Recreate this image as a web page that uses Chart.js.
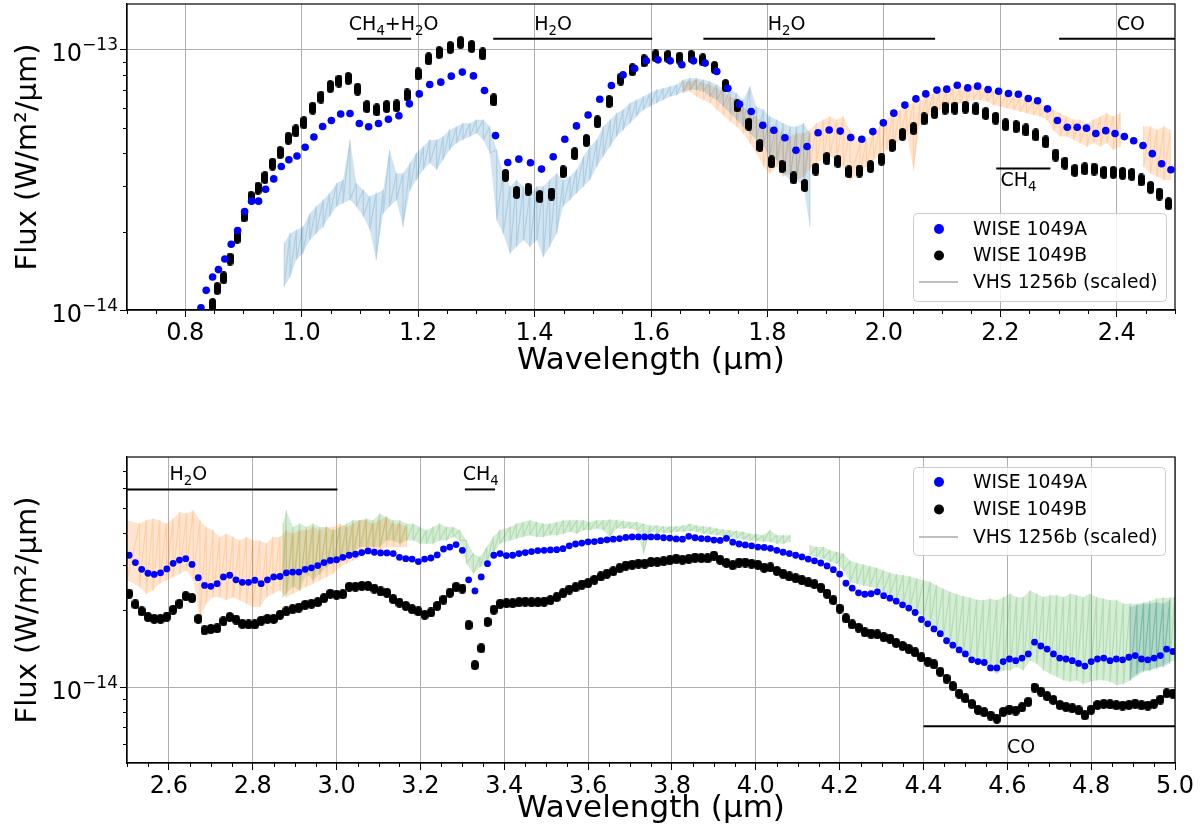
<!DOCTYPE html>
<html>
<head>
<meta charset="utf-8">
<script src="https://cdn.jsdelivr.net/npm/chart.js@4.4.0/dist/chart.umd.min.js"></script>
<style>
  html, body { margin: 0; padding: 0; background: #fff; }
  #wrap { position: relative; width: 1202px; height: 834px; }
  canvas { position: absolute; left: 0; }
  #topChart { top: 0; }
  #bottomChart { top: 400px; }
</style>
</head>
<body>
<div id="wrap">
  <canvas id="topChart" width="1202" height="400" style="width:1202px;height:400px"></canvas>
  <canvas id="bottomChart" width="1202" height="434" style="width:1202px;height:434px"></canvas>
</div>
<script>
// all fluxes below are in units of 1e-14 W/m2/um
const U = 1e-14;

// ---- top panel (0.7 - 2.5 um) ----
const wlA_nir = [0.827,0.836,0.847,0.857,0.868,0.879,0.890,0.902,0.914,0.926,
  0.938,0.952,0.965,0.978,0.992,1.006,1.021,1.036,1.051,1.067,
  1.083,1.099,1.115,1.132,1.149,1.167,1.185,1.202,1.220,1.239,
  1.257,1.276,1.295,1.314,1.333,
  1.354,1.373,1.393,1.412,1.432,1.452,1.472,1.492,1.512,1.532,
  1.552,1.572,1.592,1.612,1.633,1.653,1.673,1.693,1.713,1.732,
  1.752,1.772,1.792,1.811,1.830,1.849,1.868,1.887,1.906,1.925,
  1.943,
  1.962,1.981,1.999,2.017,2.036,2.055,2.072,2.091,2.108,2.126,
  2.144,2.161,2.179,2.197,2.214,2.231,2.248,2.264,2.281,2.298,
  2.315,2.332,2.348,2.364,2.381,2.397,2.413,2.429,2.445,2.461,
  2.477,2.493];
const fluxA_nir = [1.02,1.19,1.34,1.43,1.57,1.79,2.02,2.39,2.62,2.62,
  2.91,3.19,3.56,3.78,3.91,4.22,4.62,5.07,5.35,5.67,
  5.69,5.21,5.06,5.21,5.41,5.58,6.20,6.77,7.36,7.51,
  7.92,8.21,7.94,6.98,4.68,
  3.69,3.80,3.68,3.48,3.88,4.53,5.10,5.62,6.46,7.29,
  8.01,8.48,9.07,9.15,9.07,8.76,9.07,8.89,8.25,7.12,
  6.18,5.79,5.13,4.91,4.59,4.11,4.25,4.80,4.92,4.87,
  4.60,
  4.53,4.85,5.24,5.71,6.13,6.48,6.77,7.00,7.06,7.31,
  7.14,7.25,7.04,6.93,6.79,6.75,6.50,6.37,5.93,5.35,
  5.04,5.04,5.00,4.77,4.89,4.77,4.64,4.47,4.29,3.99,
  3.65,3.46];

const wlB_nir = [0.847,0.855,0.866,0.877,0.889,0.901,0.913,0.925,0.937,0.950,
  0.963,0.977,0.990,1.004,1.019,1.033,1.049,1.064,1.080,1.096,
  1.112,1.129,1.146,1.163,1.181,1.200,1.218,1.236,1.255,1.273,
  1.292,1.311,1.330,
  1.350,1.369,1.389,1.409,1.429,1.449,1.469,1.489,1.508,1.528,
  1.548,1.568,1.588,1.608,1.629,1.649,1.669,1.689,1.709,1.728,
  1.748,1.768,1.787,1.807,1.825,1.845,1.864,1.883,1.902,1.921,
  1.940,
  1.958,1.977,1.996,2.014,2.032,2.051,2.069,2.087,2.105,2.122,
  2.140,2.158,2.175,2.192,2.209,2.227,2.244,2.261,2.278,2.295,
  2.311,2.328,2.345,2.361,2.378,2.394,2.410,2.426,2.442,2.458,
  2.473,2.489];
const fluxB_nir = [1.05,1.21,1.33,1.57,1.90,2.30,2.71,2.94,3.23,3.64,
  4.03,4.57,4.88,5.25,5.97,6.58,7.23,7.58,7.76,7.06,
  6.05,5.88,6.05,6.09,6.71,8.08,9.23,9.76,10.21,10.67,
  10.30,9.65,6.42,
  3.29,2.83,2.91,2.73,2.79,3.40,3.99,4.48,5.29,6.33,
  7.72,8.38,9.07,9.48,9.43,9.29,9.43,9.15,8.55,7.29,
  6.09,5.18,4.29,3.71,3.56,3.22,3.01,3.48,3.82,3.73,
  3.40,
  3.42,3.56,3.80,4.29,4.73,4.98,5.43,5.74,5.97,5.97,
  6.02,5.93,5.69,5.46,5.15,5.07,4.92,4.71,4.43,3.94,
  3.67,3.44,3.49,3.48,3.38,3.38,3.35,3.32,3.16,2.96,
  2.79,2.56];

// VHS 1256b spectrum, J+H part (upper / lower edge of the noise)
const vhsJWave = [0.970,0.980,0.991,1.002,1.014,1.025,1.037,1.048,1.060,1.071,
  1.083,1.094,1.106,1.117,1.128,1.140,1.151,1.163,1.174,1.186,
  1.197,1.209,1.220,1.232,1.243,1.254,1.266,1.277,1.289,1.300,
  1.312,1.323,1.335,
  1.346,1.358,1.369,1.381,1.392,1.404,1.415,
  1.426,1.438,1.449,1.461,1.472,1.484,1.495,1.507,1.518,1.530,
  1.541,1.552,1.564,1.575,1.587,1.598,1.610,1.621,1.633,1.644,
  1.655,1.667,1.678,1.690,1.701,1.713,1.724,1.736,1.747,1.758,
  1.770,1.781,1.793,1.804,1.816,1.827,1.839,1.850,1.862,1.873];
const vhsJHigh = [1.81,1.97,2.03,2.09,2.35,2.50,2.65,2.81,3.07,3.16,
  4.51,3.07,2.89,2.73,2.81,2.89,4.12,3.35,3.35,3.67,
  4.01,4.25,4.51,4.51,4.64,4.92,5.07,5.22,5.22,5.38,
  5.38,5.07,4.12,
  3.35,2.98,3.16,2.98,2.81,2.98,2.98,
  3.16,3.35,3.16,3.26,3.46,3.89,4.25,4.51,5.07,5.38,
  5.71,5.88,6.24,6.42,6.61,6.81,7.02,7.12,7.23,7.34,
  7.67,7.78,7.78,7.67,7.55,7.34,7.12,7.02,6.81,6.42,
  7.23,6.05,5.88,5.54,5.38,5.22,5.07,5.07,5.22,4.78];
const vhsJLow = [1.23,1.34,1.56,1.65,1.86,1.97,2.09,2.29,2.50,2.57,
  2.65,2.50,2.29,2.03,1.56,2.35,2.50,2.65,2.09,2.89,
  3.16,3.46,3.67,3.46,3.78,4.12,4.38,4.51,4.64,4.78,
  4.51,4.01,2.22,
  1.97,1.65,1.75,1.86,1.75,1.86,1.60,
  1.75,1.97,2.50,2.65,2.81,2.98,3.16,3.56,3.89,4.25,
  4.64,4.92,5.22,5.54,5.88,6.05,6.24,6.42,6.61,6.71,
  6.91,7.02,7.02,6.91,6.61,6.42,6.05,5.71,5.38,5.07,
  4.78,4.51,4.25,3.89,3.78,3.35,3.16,3.16,2.98,2.09];

// VHS 1256b spectrum, K part
const vhsKWave = [1.655,1.667,1.678,1.690,1.701,1.713,1.724,1.736,1.747,1.758,
  1.770,1.781,1.793,1.804,1.816,1.827,1.839,1.850,1.862,1.873,
  1.884,1.896,1.907,1.919,1.930,1.942,1.959,1.970,1.982,1.993,
  2.005,2.016,2.028,2.039,2.051,2.062,2.074,2.085,2.096,2.108,
  2.119,2.131,2.142,2.154,2.165,2.177,2.188,2.200,2.211,2.223,
  2.234,2.245,2.257,2.268,2.280,2.291,2.303,2.314,2.326,2.337,
  2.349,2.360,2.372,2.383,2.394,2.406,2.426,2.446,2.458,2.469,
  2.481,2.492];
const vhsKHigh = [7.55,7.55,7.67,7.44,7.34,7.12,6.91,6.61,6.42,6.05,
  5.71,5.54,5.22,5.07,4.92,4.78,4.64,4.78,4.78,4.92,
  5.22,5.38,5.54,5.38,5.54,4.90,4.38,4.51,4.78,5.07,
  5.38,5.71,5.88,6.05,6.24,6.42,6.61,6.81,6.91,7.02,
  7.12,7.23,7.23,7.34,7.18,7.06,6.91,6.81,6.71,6.61,
  6.52,6.42,6.33,6.24,6.05,5.88,5.71,5.54,5.38,5.38,
  5.22,5.38,5.54,5.71,5.54,5.71,null,5.07,5.07,4.92,
  5.07,4.92];
const vhsKLow = [6.81,6.91,6.61,6.42,6.24,5.88,5.62,5.30,5.07,4.78,
  4.38,4.01,3.56,3.35,3.56,3.26,3.35,3.16,3.26,3.46,
  3.67,3.78,3.89,3.78,3.56,3.16,3.35,3.56,3.78,3.89,
  4.12,4.25,4.51,4.78,3.46,5.22,5.54,5.71,5.88,6.05,
  6.14,6.24,6.33,6.42,6.42,6.33,6.14,6.05,5.97,5.88,
  5.79,5.71,5.62,5.54,5.38,4.92,4.64,4.64,4.51,4.38,
  4.25,4.38,4.25,4.38,4.12,4.25,null,3.56,3.35,3.26,
  3.16,3.16];

// absorption band markers: [from, to, level]
const bandsTop = [[1.095,1.188,11.02],[1.329,1.602,11.02],[1.690,2.088,11.02],[2.301,2.5,11.02],[2.193,2.286,3.50]];
// labels: [text, wavelength, level, pixel offset of baseline]
const labelsTop = [['CH₄+H₂O',1.158,11.02,-9],['H₂O',1.432,11.02,-9],['H₂O',1.833,11.02,-9],['CO',2.424,11.02,-9],['CH₄',2.231,3.50,18]];

// ---- bottom panel (2.5 - 5.0 um) ----
const wlMir = [2.505,2.52,2.535,2.55,2.565,2.58,2.595,2.61,2.625,2.64,
  2.655,2.67,2.685,2.7,2.715,2.73,2.745,2.76,2.775,2.79,
  2.805,2.82,2.835,2.85,2.865,2.88,2.895,2.91,2.925,2.94,
  2.955,2.97,2.985,3.0,3.015,3.03,3.045,3.06,3.075,3.09,
  3.105,3.12,3.135,3.15,3.165,3.18,3.195,3.21,3.225,3.24,
  3.255,3.27,3.285,3.3,3.315,3.33,3.345,3.36,3.375,3.39,
  3.405,3.42,3.435,3.45,3.465,3.48,3.495,3.51,3.525,3.54,
  3.555,3.57,3.585,3.6,3.615,3.63,3.645,3.66,3.675,3.69,
  3.705,3.72,3.735,3.75,3.765,3.78,3.795,3.81,3.825,3.84,
  3.855,3.87,3.885,3.9,3.915,3.93,3.945,3.96,3.975,3.99,
  4.005,4.02,4.035,4.05,4.065,4.08,4.095,4.11,4.125,4.14,
  4.155,4.17,4.185,4.2,4.215,4.23,4.245,4.26,4.275,4.29,
  4.305,4.32,4.335,4.35,4.365,4.38,4.395,4.41,4.425,4.44,
  4.455,4.47,4.485,4.5,4.515,4.53,4.545,4.56,4.575,4.59,
  4.605,4.62,4.635,4.65,4.665,4.68,4.695,4.71,4.725,4.74,
  4.755,4.77,4.785,4.8,4.815,4.83,4.845,4.86,4.875,4.89,
  4.905,4.92,4.935,4.95,4.965,4.98,4.995];
const fluxA_mir = [3.28,3.07,2.89,2.79,2.76,2.80,2.90,3.05,3.14,3.18,
  3.02,2.68,2.50,2.48,2.54,2.70,2.74,2.63,2.57,2.57,
  2.62,2.54,2.63,2.70,2.71,2.80,2.82,2.82,2.89,2.93,
  2.99,3.07,3.13,3.15,3.22,3.28,3.31,3.36,3.41,3.37,
  3.35,3.35,3.33,3.22,3.18,3.17,3.10,3.17,3.20,3.29,
  3.47,3.53,3.61,3.43,2.63,2.38,2.70,3.04,3.28,3.33,
  3.27,3.28,3.33,3.36,3.39,3.42,3.43,3.44,3.45,3.48,
  3.57,3.63,3.66,3.70,3.71,3.74,3.77,3.79,3.81,3.85,
  3.87,3.87,3.87,3.87,3.87,3.84,3.83,3.80,3.79,3.89,
  3.84,3.81,3.80,3.76,3.75,3.82,3.69,3.63,3.60,3.57,
  3.53,3.52,3.49,3.43,3.37,3.33,3.28,3.23,3.17,3.12,
  3.06,2.98,2.88,2.77,2.55,2.44,2.34,2.31,2.32,2.36,
  2.28,2.23,2.17,2.10,2.04,1.96,1.84,1.77,1.69,1.62,
  1.52,1.46,1.40,1.35,1.28,1.26,1.25,1.19,1.19,1.26,
  1.29,1.27,1.30,1.35,1.50,1.45,1.41,1.35,1.30,1.29,
  1.27,1.24,1.21,1.26,1.29,1.30,1.27,1.29,1.28,1.31,
  1.33,1.29,1.28,1.30,1.33,1.41,1.38];
const fluxB_mir = [2.32,2.11,1.98,1.88,1.85,1.85,1.89,2.01,2.12,2.27,
  2.23,1.85,1.67,1.69,1.70,1.81,1.88,1.84,1.77,1.76,
  1.76,1.82,1.85,1.85,1.92,1.98,2.02,2.05,2.10,2.12,
  2.15,2.23,2.32,2.30,2.31,2.47,2.47,2.49,2.49,2.43,
  2.37,2.34,2.21,2.14,2.08,2.02,1.98,1.92,1.96,2.08,
  2.20,2.34,2.47,2.43,1.75,1.22,1.42,1.80,2.01,2.12,
  2.13,2.13,2.15,2.16,2.15,2.15,2.16,2.19,2.25,2.33,
  2.41,2.46,2.52,2.55,2.63,2.71,2.78,2.84,2.92,2.99,
  3.01,3.04,3.04,3.09,3.09,3.11,3.14,3.18,3.15,3.17,
  3.21,3.20,3.19,3.27,3.15,3.06,3.00,3.07,3.07,3.04,
  3.01,2.93,2.94,2.85,2.78,2.71,2.67,2.62,2.57,2.53,
  2.45,2.32,2.19,2.03,1.86,1.76,1.71,1.64,1.62,1.61,
  1.57,1.55,1.49,1.45,1.41,1.37,1.31,1.26,1.23,1.15,
  1.08,1.01,0.945,0.906,0.861,0.816,0.799,0.775,0.754,0.801,
  0.818,0.811,0.835,0.877,0.997,0.962,0.922,0.892,0.853,0.838,
  0.828,0.813,0.777,0.818,0.853,0.861,0.858,0.851,0.848,0.853,
  0.863,0.851,0.848,0.863,0.895,0.947,0.945];

// VHS 1256b, short L part (orange)
const vhsLWave = [2.500,2.530,2.546,2.562,2.578,2.594,2.610,2.626,2.642,2.658,
  2.674,2.689,2.705,2.721,2.737,2.753,2.769,2.785,2.801,2.817,
  2.833,2.848,2.865,2.880,2.896,2.912,2.928,2.944,2.960,2.976,
  2.992,3.008,3.024,3.039,3.055,3.071,3.087,3.103,3.119,3.135,
  3.151,3.167];
const vhsLHigh = [4.49,4.36,4.49,4.56,4.49,4.36,4.56,4.84,4.77,4.91,
  4.49,4.23,4.11,3.87,3.98,3.87,3.75,3.87,3.75,3.75,
  3.64,3.87,3.87,4.11,3.98,4.11,4.11,4.23,4.11,4.23,
  4.23,4.36,4.23,4.36,4.49,4.49,4.36,4.49,4.63,4.36,
  4.36,4.23];
const vhsLLow = [2.62,2.47,2.32,2.39,2.54,2.62,2.70,2.78,2.86,2.62,
  1.83,2.12,2.25,2.25,2.19,2.25,2.19,2.12,2.06,2.06,
  2.25,2.32,2.39,2.25,2.32,2.39,2.47,2.54,2.62,2.70,
  2.78,2.95,3.04,3.13,3.23,3.33,3.33,3.43,3.53,3.53,
  3.53,3.53];

// VHS 1256b, L+M part (green)
const vhsMWave = [2.872,2.880,2.896,2.912,2.928,2.944,2.960,2.976,2.992,3.008,
  3.024,3.039,3.055,3.071,3.087,3.103,3.119,3.135,3.151,3.167,
  3.183,3.199,3.214,3.230,3.246,3.262,3.278,3.294,3.310,3.326,
  3.342,3.358,3.374,3.389,3.414,3.429,3.445,3.461,3.477,3.493,
  3.509,3.525,3.541,3.557,3.573,3.589,3.604,3.620,3.636,3.652,
  3.668,3.684,3.700,3.716,3.732,3.748,3.764,3.780,3.795,3.811,
  3.827,3.843,3.859,3.875,3.891,3.907,3.923,3.938,3.954,3.970,
  3.986,4.002,4.018,4.034,4.050,4.066,4.082,4.105,4.129,4.145,
  4.161,4.177,4.193,4.209,4.225,4.241,4.257,4.272,4.288,4.304,
  4.320,4.336,4.352,4.368,4.384,4.400,4.416,4.431,4.447,4.463,
  4.479,4.495,4.511,4.527,4.543,4.559,4.575,4.591,4.607,4.622,
  4.638,4.654,4.670,4.686,4.702,4.718,4.734,4.750,4.765,4.781,
  4.797,4.813,4.829,4.845,4.861,4.877,4.893,4.909,4.925,4.940,
  4.956,4.972,4.988,5.000];
const vhsMHigh = [4.36,4.91,4.23,4.36,4.23,4.36,4.23,4.23,4.11,4.23,
  4.36,4.49,4.49,4.56,4.49,4.77,4.63,4.49,4.49,4.36,
  4.36,4.23,4.11,4.23,4.36,4.23,4.23,4.11,3.75,3.33,
  3.23,3.53,3.87,4.11,4.23,4.36,4.42,4.49,4.42,4.36,
  4.36,4.42,4.49,4.49,4.49,4.49,4.42,4.49,4.49,4.52,
  4.49,4.46,4.42,4.42,4.36,4.29,4.29,4.25,4.25,4.25,
  4.29,4.36,4.29,4.25,4.23,4.17,4.13,4.11,4.08,4.05,
  3.98,3.96,3.93,4.11,3.93,3.93,3.93,null,3.59,3.53,
  3.53,3.43,3.38,3.33,3.12,3.06,3.02,2.97,2.93,2.86,
  2.80,2.76,2.74,2.71,2.66,2.62,2.58,2.50,2.43,2.36,
  2.31,2.27,2.24,2.20,2.19,2.22,2.19,2.25,2.32,2.25,
  2.25,2.39,2.32,2.25,2.29,2.29,2.25,2.32,2.29,2.25,
  2.32,2.25,2.22,2.19,2.19,2.12,2.12,2.12,2.14,2.17,
  2.22,2.24,2.24,2.25];
const vhsMLow = [2.25,2.32,2.47,2.39,2.78,2.62,2.78,2.95,3.04,3.13,
  3.23,3.33,3.53,3.53,3.53,3.53,3.75,3.75,3.64,3.75,
  3.75,3.64,3.64,3.64,3.75,3.75,3.87,3.75,3.04,2.78,
  2.95,3.04,3.33,3.64,3.75,3.81,3.87,3.93,3.87,3.87,
  3.93,3.93,3.98,4.05,3.98,4.11,4.11,4.17,4.11,3.87,
  4.17,4.17,4.17,4.11,3.33,4.05,4.01,4.01,4.01,4.05,
  4.05,4.08,4.05,3.98,3.96,3.93,3.89,3.87,3.81,3.77,
  3.75,3.73,3.70,3.70,3.64,3.64,3.70,null,3.28,3.23,
  3.18,3.08,3.04,2.86,2.58,2.54,2.50,2.47,2.43,2.36,
  2.29,2.22,2.15,2.06,1.97,1.88,1.77,1.67,1.57,1.48,
  1.39,1.33,1.27,1.26,1.22,1.165,1.13,1.165,1.165,1.20,
  1.165,1.27,1.24,1.165,1.13,1.10,1.065,1.05,1.065,1.03,
  1.05,1.065,1.065,1.05,1.02,1.03,1.065,1.11,1.15,1.165,
  1.18,1.22,1.26,1.27];

// VHS 1256b, red end of the M part (blue)
const vhsNWave = [4.893,4.909,4.925,4.940,4.956,4.972,4.988];
const vhsNHigh = [2.06,2.09,2.12,2.12,2.15,2.12,2.19];
const vhsNLow = [1.065,1.13,1.165,1.165,1.20,1.20,1.24];

const bandsBottom = [[2.5,3.002,5.93],[3.306,3.378,5.93],[4.4,5.0,0.704]];
const labelsBottom = [['H₂O',2.6465,5.93,-9],['CH₄',3.344,5.93,-9],['CO',4.633,0.704,27]];

const xTicksTop = [0.8,1.0,1.2,1.4,1.6,1.8,2.0,2.2,2.4];
const xTicksBottom = [2.6,2.8,3.0,3.2,3.4,3.6,3.8,4.0,4.2,4.4,4.6,4.8,5.0];
const yTicksTop = [1e-14,1e-13];
const yTicksBottom = [1e-14];
const legendNames = ['WISE 1049A','WISE 1049B','VHS 1256b (scaled)'];

const FONT = '"DejaVu Sans", sans-serif';
const RGB0 = '31,119,180';
const RGB1 = '255,127,14';
const RGB2 = '44,160,44';
const SUBS = '₀₁₂₃₄₅₆₇₈₉';

function pairs(wave, flux) {
  return wave.map((w, i) => ({x: w, y: flux[i] * U}));
}

// noisy spectrum: go down and up between the two edges at every sample
function zigzag(wave, hi, lo) {
  const pts = [];
  wave.forEach((w, i) => {
    if (hi[i] == null) { pts.push({x: w, y: null}); return; }
    pts.push({x: w, y: hi[i] * U});
    pts.push({x: w, y: lo[i] * U});
  });
  return pts;
}

function pill(w, h) {
  const c = document.createElement('canvas');
  c.width = w; c.height = h;
  const g = c.getContext('2d');
  const r = w / 2;
  g.fillStyle = '#000';
  g.beginPath();
  g.arc(r, r, r, Math.PI, 2 * Math.PI);
  g.lineTo(w, h - r);
  g.arc(r, h - r, r, 0, Math.PI);
  g.closePath();
  g.fill();
  return c;
}

function pointSet(data, style, radius, color, order) {
  return { data, showLine: false, pointStyle: style, pointRadius: radius,
    pointBackgroundColor: color, pointBorderColor: color, pointBorderWidth: 0, order };
}

// spectrum = light band between the noise edges + thin zigzag for the texture
function specSets(wave, hi, lo, rgb) {
  const sets = [];
  let seg = [];
  const flush = () => {
    if (!seg.length) return;
    const poly = seg.map(i => ({x: wave[i], y: hi[i] * U}))
      .concat(seg.slice().reverse().map(i => ({x: wave[i], y: lo[i] * U})));
    sets.push({ data: poly, showLine: true, fill: 'shape', backgroundColor: 'rgba(' + rgb + ',0.2)',
      borderColor: 'rgba(0,0,0,0)', borderWidth: 0, pointRadius: 0, order: 4 });
    seg = [];
  };
  wave.forEach((w, i) => { if (hi[i] == null) flush(); else seg.push(i); });
  flush();
  sets.push({ data: zigzag(wave, hi, lo), showLine: true, borderColor: 'rgba(' + rgb + ',0.2)',
    borderWidth: 1.2, borderJoinStyle: 'round', pointRadius: 0, fill: false, spanGaps: false, order: 3 });
  return sets;
}

function bandSets(bands) {
  return bands.map(b => ({ data: [{x: b[0], y: b[2] * U}, {x: b[1], y: b[2] * U}],
    showLine: true, borderColor: '#000', borderWidth: 2, pointRadius: 0, order: 0 }));
}

// text runs: [string, font size, baseline shift]
function drawRuns(ctx, runs, x, y, align) {
  let w = 0;
  runs.forEach(r => { ctx.font = r[1] + 'px ' + FONT; w += ctx.measureText(r[0]).width; });
  let cx = align === 'right' ? x - w : x - w / 2;
  ctx.textAlign = 'left';
  ctx.textBaseline = 'alphabetic';
  runs.forEach(r => {
    ctx.font = r[1] + 'px ' + FONT;
    ctx.fillText(r[0], cx, y + r[2]);
    cx += ctx.measureText(r[0]).width;
  });
}
function chemRuns(text) {
  const runs = [];
  for (const ch of text) {
    const k = SUBS.indexOf(ch);
    const run = k >= 0 ? [String(k), 13.3, 5] : [ch, 19, 0];
    const last = runs[runs.length - 1];
    if (last && last[1] === run[1]) last[0] += run[0]; else runs.push(run);
  }
  return runs;
}

function extras(labels, yticks, box) {
  return {
    id: 'extras',
    afterDraw(chart) {
      const {ctx, chartArea: a, scales: {x, y}} = chart;
      ctx.save();
      // minor ticks
      ctx.strokeStyle = '#000';
      ctx.lineWidth = 1;
      ctx.beginPath();
      for (let k = Math.ceil(x.min * 20 - 1e-6); k <= Math.floor(x.max * 20 + 1e-6); k++) {
        if (k % 4 === 0) continue;
        const px = Math.round(x.getPixelForValue(k / 20)) + 0.5;
        ctx.moveTo(px, a.bottom); ctx.lineTo(px, a.bottom + 4);
      }
      for (let e = -16; e <= -12; e++) {
        for (let m = 2; m <= 9; m++) {
          const v = m * Math.pow(10, e);
          if (v < y.min || v > y.max) continue;
          const py = Math.round(y.getPixelForValue(v)) + 0.5;
          ctx.moveTo(a.left - 4, py); ctx.lineTo(a.left, py);
        }
      }
      ctx.stroke();
      // frame
      ctx.lineWidth = 1.2;
      ctx.strokeRect(a.left, a.top, a.right - a.left, a.bottom - a.top);
      ctx.fillStyle = '#000';
      // y tick labels with exponent
      yticks.forEach(v => {
        const py = y.getPixelForValue(v);
        const exp = '−' + String(-Math.round(Math.log10(v)));
        drawRuns(ctx, [['10', 24, 0], [exp, 17, -11]], a.left - 9, py + 11.5, 'right');
      });
      // band labels
      labels.forEach(l => {
        drawRuns(ctx, chemRuns(l[0]), x.getPixelForValue(l[1]), y.getPixelForValue(l[2] * U) + l[3], 'center');
      });
      // legend
      ctx.fillStyle = 'rgba(255,255,255,0.8)';
      ctx.strokeStyle = '#cccccc';
      ctx.lineWidth = 1;
      ctx.beginPath();
      ctx.roundRect(box.x + 0.5, box.y + 0.5, box.w, box.h, 4);
      ctx.fill(); ctx.stroke();
      ctx.fillStyle = 'blue';
      ctx.beginPath(); ctx.arc(box.mx, box.rows[0], 5, 0, 2 * Math.PI); ctx.fill();
      ctx.fillStyle = '#000';
      ctx.beginPath(); ctx.arc(box.mx, box.rows[1], 5, 0, 2 * Math.PI); ctx.fill();
      ctx.strokeStyle = '#bfbfbf';
      ctx.lineWidth = 2;
      ctx.beginPath(); ctx.moveTo(box.mx - 20, box.rows[2]); ctx.lineTo(box.mx + 19, box.rows[2]); ctx.stroke();
      ctx.fillStyle = '#000';
      ctx.font = '18.7px ' + FONT;
      ctx.textAlign = 'left';
      ctx.textBaseline = 'middle';
      legendNames.forEach((n, i) => ctx.fillText(n, box.tx, box.rows[i] + 1));
      ctx.restore();
    }
  };
}

function panel(id, cfg) {
  return new Chart(document.getElementById(id), {
    type: 'scatter',
    data: { datasets: cfg.datasets },
    options: {
      responsive: false,
      animation: false,
      devicePixelRatio: 1,
      events: [],
      layout: { padding: cfg.padding },
      plugins: { legend: { display: false }, tooltip: { enabled: false } },
      scales: {
        x: {
          type: 'linear', min: cfg.xmin, max: cfg.xmax,
          afterBuildTicks: s => { s.ticks = cfg.xticks.map(v => ({value: v})); },
          afterFit: s => { s.height = cfg.xHeight; s.paddingLeft = 0; s.paddingRight = 0; },
          ticks: { callback: v => v.toFixed(1), font: {family: FONT, size: 24}, color: '#000',
            autoSkip: false, maxRotation: 0, padding: 2 },
          grid: { color: '#b0b0b0', lineWidth: 1, tickColor: '#000', tickLength: 7, tickWidth: 1 },
          border: { color: '#000', width: 1.2 },
          title: { display: true, text: 'Wavelength (μm)', color: '#000',
            font: {family: FONT, size: 31}, padding: {top: 0, bottom: cfg.titlePad} }
        },
        y: {
          type: 'logarithmic', min: cfg.ymin, max: cfg.ymax,
          afterBuildTicks: s => { s.ticks = cfg.yticks.map(v => ({value: v})); },
          afterFit: s => { s.width = 127; s.paddingTop = 0; s.paddingBottom = 0; },
          ticks: { callback: () => '', font: {family: FONT, size: 24}, color: '#000',
            autoSkip: false, padding: 2 },
          grid: { color: '#b0b0b0', lineWidth: 1, tickColor: '#000', tickLength: 7, tickWidth: 1 },
          border: { color: '#000', width: 1.2 },
          title: { display: true, text: 'Flux (W/m²/μm)', color: '#000',
            font: {family: FONT, size: 29}, padding: {top: 11, bottom: 0} }
        }
      }
    },
    plugins: [extras(cfg.labels, cfg.yticks, cfg.legendBox)]
  });
}

const blackTop = pill(7, 13);
const blackBottom = pill(8, 10);

panel('topChart', {
  padding: {left: 0, right: 27, top: 4, bottom: 0},
  xmin: 0.7, xmax: 2.5, ymin: 1e-14, ymax: 1.5e-13,
  xticks: xTicksTop, yticks: yTicksTop, xHeight: 90, titlePad: 20,
  labels: labelsTop,
  legendBox: {x: 913, y: 213, w: 253, h: 88, rows: [229, 255.5, 282], mx: 939, tx: 973},
  datasets: [
    pointSet(pairs(wlA_nir, fluxA_nir), 'circle', 3.8, 'blue', 1),
    pointSet(pairs(wlB_nir, fluxB_nir), blackTop, 4, '#000', 2),
    ...specSets(vhsJWave, vhsJHigh, vhsJLow, RGB0),
    ...specSets(vhsKWave, vhsKHigh, vhsKLow, RGB1),
    ...bandSets(bandsTop)
  ]
});

panel('bottomChart', {
  padding: {left: 0, right: 27, top: 57, bottom: 0},
  xmin: 2.5, xmax: 5.0, ymin: 5.06e-15, ymax: 7.94e-14,
  xticks: xTicksBottom, yticks: yTicksBottom, xHeight: 71, titlePad: 6,
  labels: labelsBottom,
  legendBox: {x: 913, y: 67, w: 252, h: 88, rows: [82, 109.5, 137], mx: 939, tx: 973},
  datasets: [
    pointSet(pairs(wlMir, fluxA_mir), 'circle', 3.4, 'blue', 1),
    pointSet(pairs(wlMir, fluxB_mir), blackBottom, 4, '#000', 2),
    ...specSets(vhsLWave, vhsLHigh, vhsLLow, RGB1),
    ...specSets(vhsMWave, vhsMHigh, vhsMLow, RGB2),
    ...specSets(vhsNWave, vhsNHigh, vhsNLow, RGB0),
    ...bandSets(bandsBottom)
  ]
});
</script>
</body>
</html>
